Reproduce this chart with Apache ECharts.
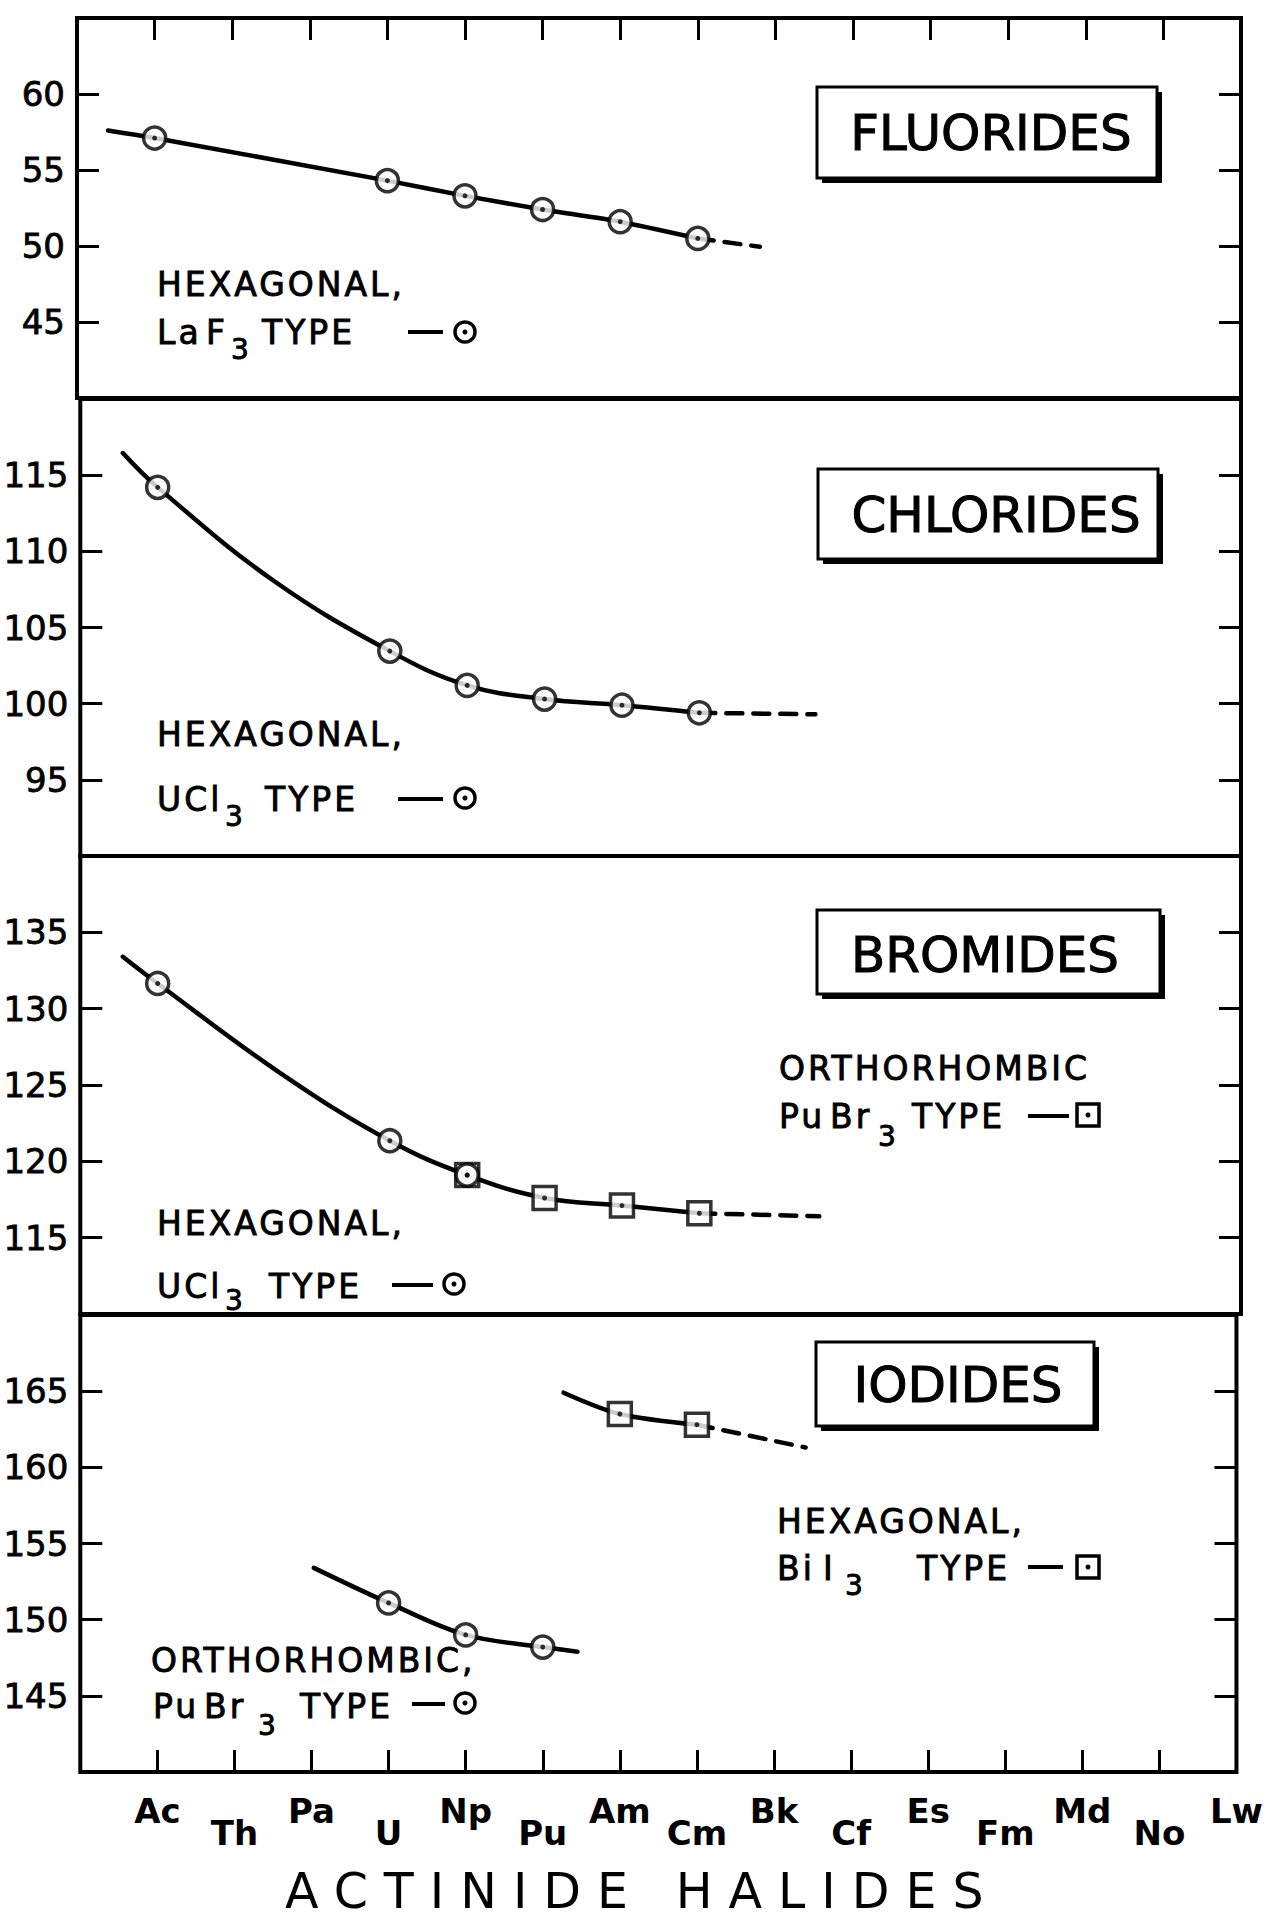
<!DOCTYPE html>
<html><head><meta charset="utf-8">
<script src="https://cdn.jsdelivr.net/npm/echarts@6/dist/echarts.min.js"></script>
<style>
html,body{margin:0;padding:0;background:#fff;}
#c{width:1266px;height:1920px;}
#c text[style*="49px"]{letter-spacing:16px;}
#c text[style*="33px"]{letter-spacing:3px;}
</style></head><body><div id="c"></div>
<script>
// ---- categories / tick labels ----
const elements = ['Ac','Th','Pa','U','Np','Pu','Am','Cm','Bk','Cf','Es','Fm','Md','No','Lw'];
const panelNames = ['FLUORIDES','CHLORIDES','BROMIDES','IODIDES'];
const yRanges = [[40,65],[90,120],[110,140],[140,170]];
const xTitle = 'ACTINIDE HALIDES';

// ---- Fluorides: hexagonal LaF3 type ----
const fluorideIdx = [0,3,4,5,6,7];
const fluorideVal = [57.1,54.3,53.3,52.4,51.6,50.5];
const fluorideCurveStart = [-0.6,57.6];
const fluorideDashEnd = [7.8,49.95];

// ---- Chlorides: hexagonal UCl3 type ----
const chlorideIdx = [0,3,4,5,6,7];
const chlorideVal = [114.2,103.45,101.2,100.3,99.9,99.4];
const chlorideCurveStart = [-0.45,116.45];
// a point read on the drawn curve between Ac and U
const chlorideCurveTrace = [[1.49,108.1]];
const chlorideDashEnd = [8.5,99.3];

// ---- Bromides: hexagonal UCl3 type and orthorhombic PuBr3 type ----
const bromideHexIdx = [0,3,4];
const bromideHexVal = [131.65,121.35,119.1];
const bromideOrthIdx = [4,5,6,7];
const bromideOrthVal = [119.1,117.6,117.1,116.6];
const bromideCurveStart = [-0.45,133.4];
// a point read on the drawn curve between Ac and U
const bromideCurveTrace = [[1.58,125.8]];
const bromideDashEnd = [8.55,116.4];

// ---- Iodides: orthorhombic PuBr3 type and hexagonal BiI3 type ----
const iodideOrthIdx = [3,4,5];
const iodideOrthVal = [151.1,149.0,148.2];
const iodideOrthStart = [2.03,153.4];
const iodideOrthEnd = [5.45,147.9];
const iodideHexIdx = [6,7];
const iodideHexVal = [163.5,162.8];
const iodideHexStart = [5.27,164.9];
const iodideHexDashEnd = [8.41,161.3];

// ---------------------------------------------------------------
const zip = (a,b) => a.map((v,i)=>[v,b[i]]);
const byX = (a,b) => a[0]-b[0];
const FONT = "'DejaVu Sans', 'Liberation Sans', sans-serif";
const gridTops = [18,399,856,1315];
const gridHeights = [380,457,458,457];
const grids = gridTops.map((t,i)=>({left:77,right:25,top:t,height:gridHeights[i],show:true,borderColor:'#000',borderWidth:4,backgroundColor:'transparent'}));

const tickStyle = {show:true,inside:true,length:22,lineStyle:{color:'#000',width:3}};
const xLabelBase = {show:true,showMaxLabel:true,showMinLabel:false,color:'#000',fontSize:34,fontWeight:'bold',fontFamily:FONT};
const xAxes = [];
for(let i=0;i<4;i++){
  xAxes.push({gridIndex:i,type:'value',min:-1,max:14,interval:1,position:i===0?'top':'bottom',
    axisLine:{show:false,onZero:false},splitLine:{show:false},
    axisTick:(i===0||i===3)?tickStyle:{show:false},
    axisLabel: i===3 ? Object.assign({},xLabelBase,{margin:22,formatter:v=>(v>=0 && v%2===0)?elements[v]:''}) : {show:false}});
}
xAxes.push({gridIndex:3,type:'value',min:-1,max:14,interval:1,position:'bottom',
  axisLine:{show:false,onZero:false},splitLine:{show:false},axisTick:{show:false},
  axisLabel:Object.assign({},xLabelBase,{margin:44,formatter:v=>(v>=0 && v%2===1)?elements[v]:''})});

const yAxes = [];
for(let i=0;i<4;i++){
  yAxes.push({gridIndex:i,type:'value',min:yRanges[i][0],max:yRanges[i][1],interval:5,position:'left',
    axisLine:{show:false,onZero:false},splitLine:{show:false},axisTick:tickStyle,
    axisLabel:{showMinLabel:false,showMaxLabel:false,margin:12,color:'#000',fontSize:34,fontFamily:FONT,
      textBorderColor:'#000',textBorderWidth:0.8}});
  yAxes.push({gridIndex:i,type:'value',min:yRanges[i][0],max:yRanges[i][1],interval:5,position:'right',
    axisLine:{show:false,onZero:false},splitLine:{show:false},axisTick:tickStyle,axisLabel:{show:false}});
}

function line(g,data,opts){
  opts = opts||{};
  return {type:'line',xAxisIndex:g,yAxisIndex:2*g,data:data,symbol:'none',showSymbol:false,silent:true,
    smooth:opts.smooth||0,z:2,animation:false,
    lineStyle:{color:'#000',width:4.5,type:opts.dashed?[16,11]:'solid',cap:'round'}};
}
function marks(g,data,shape){
  return [{type:'scatter',xAxisIndex:g,yAxisIndex:2*g,data:data,symbol:shape,symbolSize:shape==='rect'?23:22,silent:true,z:3,animation:false,
      itemStyle:{color:'#fff',borderColor:'#000',borderWidth:3.5}},
    {type:'scatter',xAxisIndex:g,yAxisIndex:2*g,data:data,symbol:'circle',symbolSize:5,silent:true,z:4,animation:false,
      itemStyle:{color:'#000'}}];
}

const fl = zip(fluorideIdx,fluorideVal);
const cl = zip(chlorideIdx,chlorideVal);
const brH = zip(bromideHexIdx,bromideHexVal);
const brO = zip(bromideOrthIdx,bromideOrthVal);
const ioO = zip(iodideOrthIdx,iodideOrthVal);
const ioH = zip(iodideHexIdx,iodideHexVal);

const series = [
  line(0,[fluorideCurveStart].concat(fl),{smooth:0.2}),
  line(0,[fl[fl.length-1],fluorideDashEnd],{dashed:true}),
  ...marks(0,fl,'circle'),

  line(1,[chlorideCurveStart].concat(cl,chlorideCurveTrace).sort(byX),{smooth:0.4}),
  line(1,[cl[cl.length-1],chlorideDashEnd],{dashed:true}),
  ...marks(1,cl,'circle'),

  line(2,[bromideCurveStart].concat(brH,brO.slice(1),bromideCurveTrace).sort(byX),{smooth:0.4}),
  line(2,[brO[brO.length-1],bromideDashEnd],{dashed:true}),
  ...marks(2,brO,'rect'),
  ...marks(2,brH,'circle'),

  line(3,[iodideOrthStart].concat(ioO,[iodideOrthEnd]),{smooth:0.35}),
  ...marks(3,ioO,'circle'),
  line(3,[iodideHexStart].concat(ioH),{smooth:0.3}),
  line(3,[ioH[ioH.length-1],iodideHexDashEnd],{dashed:true}),
  ...marks(3,ioH,'rect'),
];

// ---- annotation graphics ----
const graphic = [];
const boxes = [
  {x:817,y:87,w:340,h:91,cx:991,cy:133},
  {x:818,y:469,w:340,h:90,cx:996,cy:515},
  {x:817,y:910,w:343,h:84,cx:985,cy:955},
  {x:816,y:1342,w:278,h:84,cx:958,cy:1385},
];
boxes.forEach((b,i)=>{
  graphic.push({type:'rect',shape:{x:b.x+5,y:b.y+5,width:b.w,height:b.h},style:{fill:'#000'},z:10});
  graphic.push({type:'rect',shape:{x:b.x,y:b.y,width:b.w,height:b.h},style:{fill:'#fff',stroke:'#000',lineWidth:3},z:11});
  graphic.push({type:'text',x:b.cx,y:b.cy,style:{text:panelNames[i],fill:'#000',stroke:'#000',lineWidth:1,font:'normal 50px '+FONT,align:'center',verticalAlign:'middle'},z:12});
});
function txt(s,x,y,size){
  graphic.push({type:'text',x:x,y:y,style:{text:s,fill:'#000',stroke:'#000',lineWidth:0.9,font:'normal '+(size||33)+'px '+FONT,align:'left',verticalAlign:'middle'},z:12});
}
function dash(x1,x2,y){
  graphic.push({type:'line',shape:{x1:x1,y1:y,x2:x2,y2:y},style:{stroke:'#000',lineWidth:4},z:12});
}
function circ(x,y){
  graphic.push({type:'circle',shape:{cx:x,cy:y,r:10},style:{fill:'#fff',stroke:'#000',lineWidth:3.5},z:12});
  graphic.push({type:'circle',shape:{cx:x,cy:y,r:2.5},style:{fill:'#000'},z:13});
}
function sq(x,y){
  graphic.push({type:'rect',shape:{x:x-11,y:y-11,width:22,height:22},style:{fill:'#fff',stroke:'#000',lineWidth:3.5},z:12});
  graphic.push({type:'circle',shape:{cx:x,cy:y,r:2.5},style:{fill:'#000'},z:13});
}
// Fluorides legend
txt('HEXAGONAL,',157,284); txt('La',157,332); txt('F',206,332); txt('3',231,349,28); txt('TYPE',262,332); dash(408,443,332); circ(465,332);
// Chlorides legend
txt('HEXAGONAL,',157,734); txt('UCl',157,799); txt('3',225,816,28); txt('TYPE',265,799); dash(398,443,799); circ(465,798);
// Bromides legends
txt('HEXAGONAL,',157,1223); txt('UCl',157,1286); txt('3',225,1300,28); txt('TYPE',269,1286); dash(392,433,1285); circ(454,1284);
txt('ORTHORHOMBIC',779,1068); txt('Pu',779,1116); txt('Br',830,1116); txt('3',878,1136,28); txt('TYPE',912,1116); dash(1028,1069,1116); sq(1088,1115);
// Iodides legends
txt('ORTHORHOMBIC,',151,1660); txt('Pu',153,1706); txt('Br',204,1706); txt('3',258,1725,28); txt('TYPE',300,1706); dash(412,445,1704); circ(465,1703);
txt('HEXAGONAL,',777,1521); txt('Bi',777,1568); txt('I',823,1568); txt('3',845,1585,28); txt('TYPE',917,1568); dash(1028,1063,1567); sq(1088,1567);
// axis title
graphic.push({type:'text',x:285,y:1891,style:{text:xTitle,fill:'#000',font:'normal 49px '+FONT,align:'left',verticalAlign:'middle'},z:12});

const chart = echarts.init(document.getElementById('c'),null,{renderer:'svg'});
chart.setOption({animation:false,backgroundColor:'#fff',grid:grids,xAxis:xAxes,yAxis:yAxes,series:series,graphic:graphic});
</script></body></html>
